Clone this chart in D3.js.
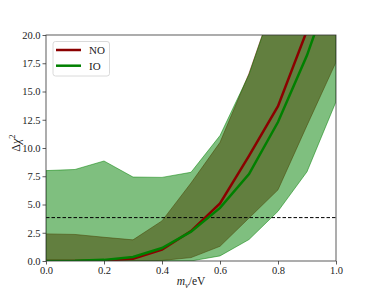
<!DOCTYPE html>
<html><head><meta charset="utf-8">
<script src="https://cdn.jsdelivr.net/npm/d3@7"></script>
<style>
html,body{margin:0;padding:0;background:#fff;}
svg text{font-family:"Liberation Serif","Times New Roman",serif;fill:#222;}
</style>
</head><body>
<svg id="chart" width="374" height="299"></svg>
<script>
const xVals  = [0, 0.1, 0.2, 0.3, 0.4, 0.5, 0.6, 0.7, 0.8, 0.9, 1.0];
const noLine = [0, 0, 0.05, 0.2, 1.0, 2.65, 5.1, 9.3, 13.7, 20.4, 27.5];
const ioLine = [0, 0.02, 0.1, 0.35, 1.15, 2.6, 4.7, 7.7, 12.3, 18.2, 25.5];
const noLow  = [0, 0, 0, 0, 0.05, 0.3, 1.3, 3.8, 6.3, 12.0, 17.6];
const noHigh = [2.4, 2.35, 2.1, 1.87, 3.55, 6.9, 10.5, 16.6, 24, 32, 40];
const ioLow  = [0, 0, 0, 0, 0, 0, 0.45, 1.9, 4.4, 7.9, 14.1];
const ioHigh = [8.0, 8.1, 8.85, 7.43, 7.4, 7.85, 11.1, 16.5, 24, 32, 40];
const threshold = 3.84;
const xTicks = [0, 0.2, 0.4, 0.6, 0.8, 1.0];
const yTicks = [0, 2.5, 5, 7.5, 10, 12.5, 15, 17.5, 20];
const seriesNames = ["NO", "IO"];

const svg = d3.select("#chart");
const m = {left: 46, right: 38, top: 35, bottom: 38};
const W = 374, H = 299;
const x = d3.scaleLinear().domain([0, 1]).range([m.left, W - m.right]);
const y = d3.scaleLinear().domain([0, 20]).range([H - m.bottom, m.top]);

svg.append("defs").append("clipPath").attr("id", "clip")
  .append("rect").attr("x", x(0)).attr("y", y(20))
  .attr("width", x(1) - x(0)).attr("height", y(0) - y(20));

const plot = svg.append("g").attr("clip-path", "url(#clip)");
const idx = d3.range(xVals.length);
const area = (lo, hi) => d3.area().x(i => x(xVals[i])).y0(i => y(lo[i])).y1(i => y(hi[i]));
const line = (v) => d3.line().x(i => x(xVals[i])).y(i => y(v[i]));

const red = "#8b0000", green = "#008000";
plot.append("path").datum(idx).attr("d", area(noLow, noHigh))
  .attr("fill", red).attr("fill-opacity", 0.5)
  .attr("stroke", red).attr("stroke-opacity", 0.5).attr("stroke-width", 1);
plot.append("path").datum(idx).attr("d", area(ioLow, ioHigh))
  .attr("fill", green).attr("fill-opacity", 0.5)
  .attr("stroke", green).attr("stroke-opacity", 0.5).attr("stroke-width", 1);

plot.append("line").attr("x1", x(0)).attr("x2", x(1))
  .attr("y1", y(threshold)).attr("y2", y(threshold))
  .attr("stroke", "#000").attr("stroke-width", 1).attr("stroke-dasharray", "3.5,2");

plot.append("path").datum(idx).attr("d", line(noLine))
  .attr("fill", "none").attr("stroke", red).attr("stroke-width", 2.5);
plot.append("path").datum(idx).attr("d", line(ioLine))
  .attr("fill", "none").attr("stroke", green).attr("stroke-width", 2.5);

// axes
const xAxis = svg.append("g").attr("transform", `translate(0,${y(0)})`)
  .call(d3.axisBottom(x).tickValues(xTicks).tickFormat(d3.format(".1f")).tickSize(3.5).tickPadding(2));
const yAxis = svg.append("g").attr("transform", `translate(${x(0)},0)`)
  .call(d3.axisLeft(y).tickValues(yTicks).tickFormat(d3.format(".1f")).tickSize(3.5).tickPadding(2));
[xAxis, yAxis].forEach(a => {
  a.select(".domain").remove();
  a.selectAll(".tick line").attr("stroke", "#333").attr("stroke-width", 0.8);
  a.selectAll(".tick text").style("font-size", "10.5px").attr("fill", "#444");
});
// frame
svg.append("rect").attr("x", x(0)).attr("y", y(20))
  .attr("width", x(1) - x(0)).attr("height", y(0) - y(20))
  .attr("fill", "none").attr("stroke", "#333").attr("stroke-width", 0.8);

// x label
const xl = svg.append("text").attr("x", (x(0) + x(1)) / 2).attr("y", 285)
  .attr("text-anchor", "middle").style("font-size", "11.5px").attr("fill", "#444");
xl.append("tspan").attr("font-style", "italic").text("m");
xl.append("tspan").attr("font-style", "italic").attr("font-size", "8.5px").attr("dy", 2.5).text("ν");
xl.append("tspan").attr("dy", -2.5).text("/eV");

// y label
const yl = svg.append("text").attr("transform", `translate(20,143) rotate(-90)`)
  .attr("text-anchor", "middle").style("font-size", "12px").attr("fill", "#444");
yl.append("tspan").text("Δ");
yl.append("tspan").attr("font-style", "italic").text("χ");
yl.append("tspan").attr("font-size", "8.5px").attr("dy", -5).text("2");

// legend
const lg = svg.append("g");
lg.append("rect").attr("x", 53).attr("y", 41.5).attr("width", 56.5).attr("height", 34.5)
  .attr("rx", 2.5).attr("fill", "#fff").attr("fill-opacity", 0.8)
  .attr("stroke", "#d0d0d0").attr("stroke-width", 0.8);
[red, green].forEach((c, i) => {
  const yy = 50 + i * 15.7;
  lg.append("line").attr("x1", 56).attr("x2", 81).attr("y1", yy).attr("y2", yy)
    .attr("stroke", c).attr("stroke-width", 2.5);
  lg.append("text").attr("x", 89).attr("y", yy + 4).style("font-size", "11px")
    .attr("fill", "#333").text(seriesNames[i]);
});
</script>
</body></html>
